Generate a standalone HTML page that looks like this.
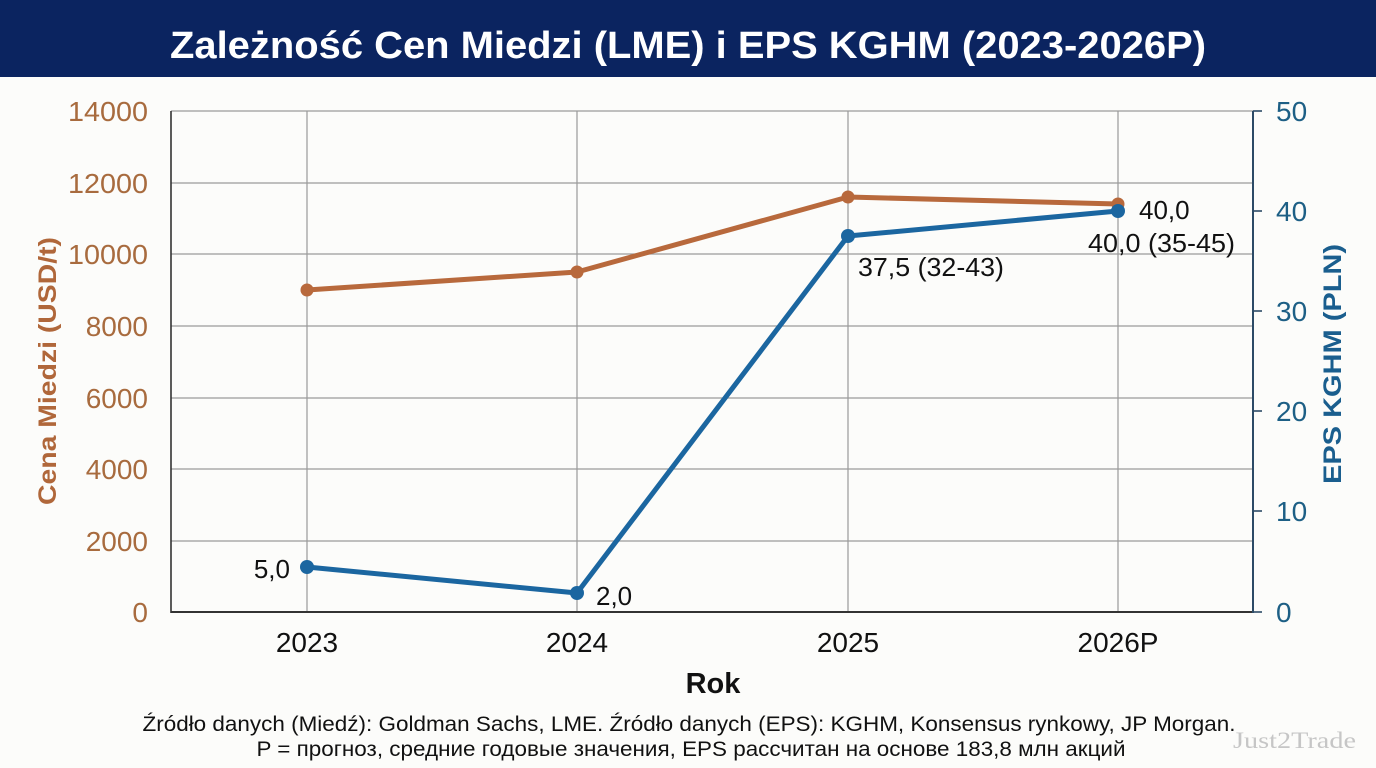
<!DOCTYPE html>
<html><head><meta charset="utf-8"><style>
html,body{margin:0;padding:0;background:#fcfcfa;}
svg{display:block;}
text{font-family:"Liberation Sans",Arial,sans-serif;}
</style></head><body>
<svg width="1376" height="768" viewBox="0 0 1376 768" xmlns="http://www.w3.org/2000/svg">
<rect x="0" y="0" width="1376" height="768" fill="#fcfcfa"/>
<rect x="0" y="0" width="1376" height="77" fill="#0b2460"/>
<text x="688" y="58" text-anchor="middle" font-size="38" font-weight="bold" fill="#ffffff" textLength="1036" lengthAdjust="spacingAndGlyphs">Zależność Cen Miedzi (LME) i EPS KGHM (2023-2026P)</text>

<!-- gridlines -->
<g stroke="#9a9a9a" stroke-width="1.2">
<line x1="171" y1="111" x2="1253" y2="111"/>
<line x1="171" y1="183" x2="1253" y2="183"/>
<line x1="171" y1="254" x2="1253" y2="254"/>
<line x1="171" y1="326" x2="1253" y2="326"/>
<line x1="171" y1="398" x2="1253" y2="398"/>
<line x1="171" y1="469" x2="1253" y2="469"/>
<line x1="171" y1="541" x2="1253" y2="541"/>
<line x1="307" y1="111" x2="307" y2="612"/>
<line x1="577" y1="111" x2="577" y2="612"/>
<line x1="848" y1="111" x2="848" y2="612"/>
<line x1="1118" y1="111" x2="1118" y2="612"/>
</g>
<!-- axes -->
<line x1="171" y1="111" x2="171" y2="613" stroke="#333" stroke-width="1.6"/>
<line x1="171" y1="612" x2="1254" y2="612" stroke="#333" stroke-width="2"/>
<line x1="1253" y1="111" x2="1253" y2="613" stroke="#2c4a66" stroke-width="2"/>
<g stroke="#2c4a66" stroke-width="1.6">
<line x1="1253" y1="111" x2="1262" y2="111"/>
<line x1="1253" y1="211" x2="1262" y2="211"/>
<line x1="1253" y1="311" x2="1262" y2="311"/>
<line x1="1253" y1="411" x2="1262" y2="411"/>
<line x1="1253" y1="511" x2="1262" y2="511"/>
<line x1="1253" y1="612" x2="1262" y2="612"/>
</g>

<!-- left ticks -->
<g font-size="28" fill="#a86b3e" text-anchor="end">
<text x="148" y="121" textLength="80" lengthAdjust="spacingAndGlyphs">14000</text>
<text x="148" y="193" textLength="80" lengthAdjust="spacingAndGlyphs">12000</text>
<text x="148" y="264" textLength="80" lengthAdjust="spacingAndGlyphs">10000</text>
<text x="148" y="336">8000</text>
<text x="148" y="408">6000</text>
<text x="148" y="479">4000</text>
<text x="148" y="551">2000</text>
<text x="148" y="622">0</text>
</g>
<text transform="translate(56,371) rotate(-90)" text-anchor="middle" font-size="25" font-weight="bold" fill="#b0673a" textLength="268" lengthAdjust="spacingAndGlyphs">Cena Miedzi (USD/t)</text>

<!-- right ticks -->
<g font-size="28" fill="#1d5f85" text-anchor="start">
<text x="1276" y="121">50</text>
<text x="1276" y="221">40</text>
<text x="1276" y="321">30</text>
<text x="1276" y="421">20</text>
<text x="1276" y="521">10</text>
<text x="1276" y="622">0</text>
</g>
<text transform="translate(1341,364) rotate(-90)" text-anchor="middle" font-size="25" font-weight="bold" fill="#1a5e8e" textLength="240" lengthAdjust="spacingAndGlyphs">EPS KGHM (PLN)</text>

<!-- x labels -->
<g font-size="28" fill="#111" text-anchor="middle">
<text x="307" y="652">2023</text>
<text x="577" y="652">2024</text>
<text x="848" y="652">2025</text>
<text x="1118" y="652">2026P</text>
</g>
<text x="713" y="693" text-anchor="middle" font-size="29" font-weight="bold" fill="#111">Rok</text>

<!-- copper series -->
<polyline points="307,290 577,272 848,197 1118,204" fill="none" stroke="#b8693c" stroke-width="5" stroke-linejoin="round"/>
<g fill="#b8693c">
<circle cx="307" cy="290" r="6.5"/>
<circle cx="577" cy="272" r="6.5"/>
<circle cx="848" cy="197" r="6.5"/>
<circle cx="1118" cy="204" r="6.5"/>
</g>
<!-- EPS series -->
<polyline points="307,567 577,593 848,236 1118,211" fill="none" stroke="#1b66a0" stroke-width="5" stroke-linejoin="round"/>
<g fill="#1b66a0">
<circle cx="307" cy="567" r="7"/>
<circle cx="577" cy="593" r="7"/>
<circle cx="848" cy="236" r="7"/>
<circle cx="1118" cy="211" r="7"/>
</g>

<!-- data labels -->
<g font-size="26" fill="#111">
<text x="290" y="578" text-anchor="end">5,0</text>
<text x="596" y="605">2,0</text>
<text x="858" y="276" textLength="146" lengthAdjust="spacingAndGlyphs">37,5 (32-43)</text>
<text x="1139" y="219">40,0</text>
<text x="1088" y="252" textLength="147" lengthAdjust="spacingAndGlyphs">40,0 (35-45)</text>
</g>

<!-- footer -->
<text x="689" y="731" text-anchor="middle" font-size="21" fill="#111" textLength="1093" lengthAdjust="spacingAndGlyphs">Źródło danych (Miedź): Goldman Sachs, LME. Źródło danych (EPS): KGHM, Konsensus rynkowy, JP Morgan.</text>
<text x="691" y="756" text-anchor="middle" font-size="21" fill="#111" textLength="869" lengthAdjust="spacingAndGlyphs">P = прогноз, средние годовые значения, EPS рассчитан на основе 183,8 млн акций</text>
<text x="1233" y="748" style="font-family:'Liberation Serif','DejaVu Serif',serif" font-size="23" fill="#c6c6c6" textLength="123" lengthAdjust="spacingAndGlyphs">Just2Trade</text>
</svg>
</body></html>
